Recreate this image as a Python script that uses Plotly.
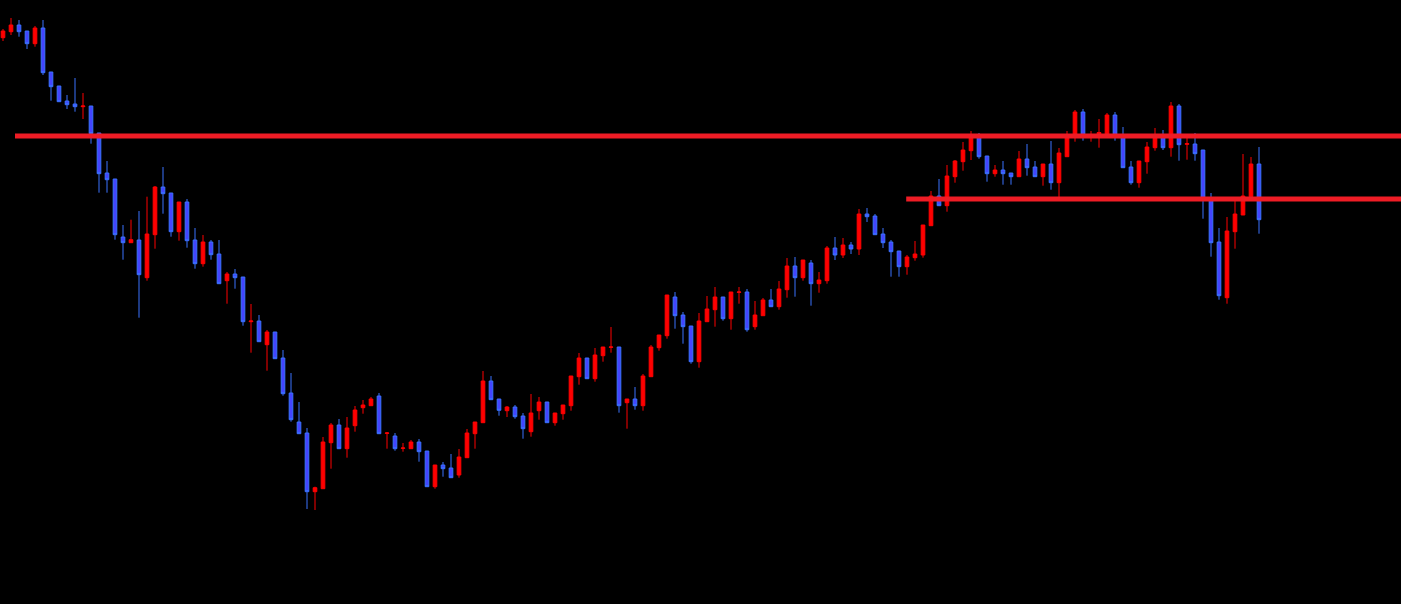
import plotly.graph_objects as go

# candle data (arbitrary price units)
opens = [
    566.3, 572.3, 579, 573, 560.3, 576, 532, 518, 503, 500,
    497.3, 498, 471, 431, 425, 367, 361.3, 364, 326.3, 369.3,
    417, 411, 372.3, 402, 364, 340.3, 362, 350, 323.3, 330,
    327, 282.3, 283, 259.3, 272, 246, 211, 182, 171, 112.3,
    115.3, 161.3, 179, 155.3, 178.3, 196.3, 198.3, 208, 170.7, 168,
    155.7, 155.3, 162, 153, 117.3, 139, 136, 129, 146.3, 170.3,
    181.3, 223, 205, 193.3, 197, 188, 172.3, 193.3, 202, 181.3,
    190.3, 198.3, 227.3, 246, 225.3, 248.3, 256.7, 257, 201.3, 205,
    198.3, 227.3, 256.3, 268.3, 307, 289, 278, 242.3, 282.3, 294.3,
    307, 285.3, 311.7, 312, 277.3, 288.3, 304, 297.3, 314.3, 338,
    326.3, 341, 320.3, 323.3, 356, 349, 359, 355, 390, 388,
    370, 362, 353, 337.3, 346.3, 349, 378.3, 408, 398.3, 427.3,
    442.3, 453.3, 468, 448, 430.3, 434, 431, 427.3, 445, 437,
    427.3, 440, 421.3, 447.3, 467.3, 492, 467.5, 470, 467.3, 489,
    467.3, 437, 421.3, 442.3, 456.3, 467.3, 456.3, 498, 459.7, 460,
    454, 405, 362, 306.3, 372.3, 389, 407.3, 440,
]
highs = [
    575, 586, 584, 573, 578, 584, 532, 518, 509, 526,
    511, 498, 471, 443, 425, 379, 384.3, 393, 407.3, 418,
    437, 411, 402, 405, 376, 369, 364, 364, 332, 335,
    327, 300, 289, 274, 272, 254, 231, 202, 176, 117.3,
    167, 181, 185, 187, 198, 204, 207, 211, 172, 171,
    161, 164, 165, 153, 139, 142, 150, 155, 175, 182,
    233, 228, 205, 198, 199, 191, 210, 207, 202, 191,
    199, 228, 251, 246, 256, 257, 277, 257, 205, 217,
    230, 259, 269, 309, 312, 292, 278, 291, 308, 317,
    307, 312, 317, 315, 303, 306, 315, 323, 346, 347,
    344, 344, 332, 358, 367, 366, 362, 395, 396, 390,
    376, 364, 353, 349, 363, 379, 413, 425, 439, 444,
    462, 473, 471, 448, 439, 443, 431, 453, 460, 443,
    440, 463, 456, 473, 494, 495, 473, 485, 491, 492,
    477, 443, 443, 462, 476, 474, 502, 500, 466, 471,
    454, 411, 376, 387, 403, 450, 447, 457,
]
lows = [
    563, 569, 567.3, 555, 557.3, 529, 503.3, 502.3, 495, 492.3,
    485, 460.3, 411.3, 411.3, 364.3, 344.3, 361.3, 286.3, 323.3, 355.3,
    390.3, 367.3, 363.3, 356.3, 335.3, 337.3, 344.3, 320.3, 300.3, 315.3,
    278.3, 251.3, 262.3, 233.3, 245.3, 208.3, 182.3, 170.3, 95, 94,
    115.3, 135.3, 155.3, 146.3, 172.3, 190.3, 198.3, 170.3, 155.3, 153.3,
    152.3, 155.3, 142.3, 117.3, 115.3, 127.3, 126.3, 126.3, 146.3, 155.3,
    181.3, 204.3, 188.3, 187, 185.3, 165.3, 167.3, 184.3, 181.3, 178.3,
    184.3, 193.3, 219.3, 225.3, 222.3, 242.3, 251.3, 191.3, 175.3, 194.3,
    193.3, 227.3, 253.3, 265.3, 275.3, 260.3, 240.3, 236.3, 282.3, 277.3,
    283.3, 274.3, 300.3, 272.3, 274.3, 288.3, 297.3, 294.3, 306.3, 307.3,
    323.3, 298.3, 311.3, 320.3, 344, 346, 350, 349, 382, 369.3,
    356, 327.3, 327.3, 329.3, 343.3, 346.3, 378.3, 398.3, 392.3, 421.3,
    433.3, 444, 445.3, 422.3, 427.3, 419.3, 419.3, 427.3, 428.3, 427.3,
    418.3, 414.3, 406.7, 447.3, 462.3, 463.3, 462.3, 456.3, 467.3, 463.3,
    436.3, 419.3, 416.3, 430.3, 453.3, 454, 447.3, 443.3, 444.3, 443.3,
    385.3, 347.3, 304.3, 300.3, 355.3, 389, 407.3, 370.3,
]
closes = [
    573, 579, 572.3, 560.3, 576, 531.3, 517.3, 502.3, 499.3, 497.3,
    498, 470.3, 430.3, 424.3, 369.3, 361.3, 364.3, 329.3, 370, 417,
    410.3, 372.3, 402, 363.3, 340.3, 362, 349.3, 320.3, 330, 326.3,
    282.3, 283, 262.3, 272, 245.3, 210.3, 184.3, 170.3, 112.3, 116.3,
    162, 179, 155.3, 176, 194, 199, 205, 170.3, 171, 155.3,
    156, 162, 152.3, 117.3, 139, 135.3, 126.3, 147, 171, 182,
    223, 204.3, 193.7, 197, 187.3, 175.3, 191, 202, 181.3, 191,
    199, 228, 246, 225.3, 249, 257, 257, 198.3, 205, 198.3,
    228, 257, 269, 309, 288.3, 277.3, 242.3, 283, 295, 307,
    285.3, 312, 312, 274.3, 289, 304, 297.3, 315, 338, 326.3,
    344, 320.3, 324, 356, 349, 359, 355, 390, 387.3, 369.3,
    361.3, 352.3, 337.3, 347, 350, 379, 408, 398.3, 428, 443,
    454, 467, 447.3, 430.3, 434, 430.3, 427.3, 445, 436.3, 427.3,
    440, 421.3, 451, 467, 492, 467.3, 468.5, 471.5, 489, 467.3,
    436.3, 421.3, 443, 457, 466, 456.3, 498, 459.3, 460.3, 450.3,
    405, 361.3, 308.3, 373, 390, 408, 440, 384.3,
]
bars = list(range(len(opens)))

# horizontal levels: price and the bar where each line starts
levels = [468, 405]
level_starts = [1.5, 112.9]

fig = go.Figure()
fig.add_trace(
    go.Candlestick(
        x=bars,
        open=opens,
        high=highs,
        low=lows,
        close=closes,
        increasing=dict(line=dict(color="#ff0000", width=1), fillcolor="#ff0000"),
        decreasing=dict(line=dict(color="#3a72ff", width=1), fillcolor="#4444ff"),
        whiskerwidth=0,
        showlegend=False,
    )
)

for lvl, start in zip(levels, level_starts):
    fig.add_trace(
        go.Scatter(
            x=[start, 176],
            y=[lvl, lvl],
            mode="lines",
            line=dict(color="#ee1c25", width=5),
            showlegend=False,
            hoverinfo="skip",
        )
    )

fig.update_layout(
    width=1401,
    height=604,
    paper_bgcolor="#000000",
    plot_bgcolor="#000000",
    margin=dict(l=0, r=0, t=0, b=0),
    boxgap=0.35,
    xaxis=dict(range=[-0.375, 174.75], visible=False, rangeslider=dict(visible=False)),
    yaxis=dict(range=[0, 604], visible=False),
)
fig.write_html(
    "out.html",
    config={"displayModeBar": False},
    post_script="document.body.style.margin='0';document.body.style.background='#000';document.body.style.overflow='hidden';",
)
